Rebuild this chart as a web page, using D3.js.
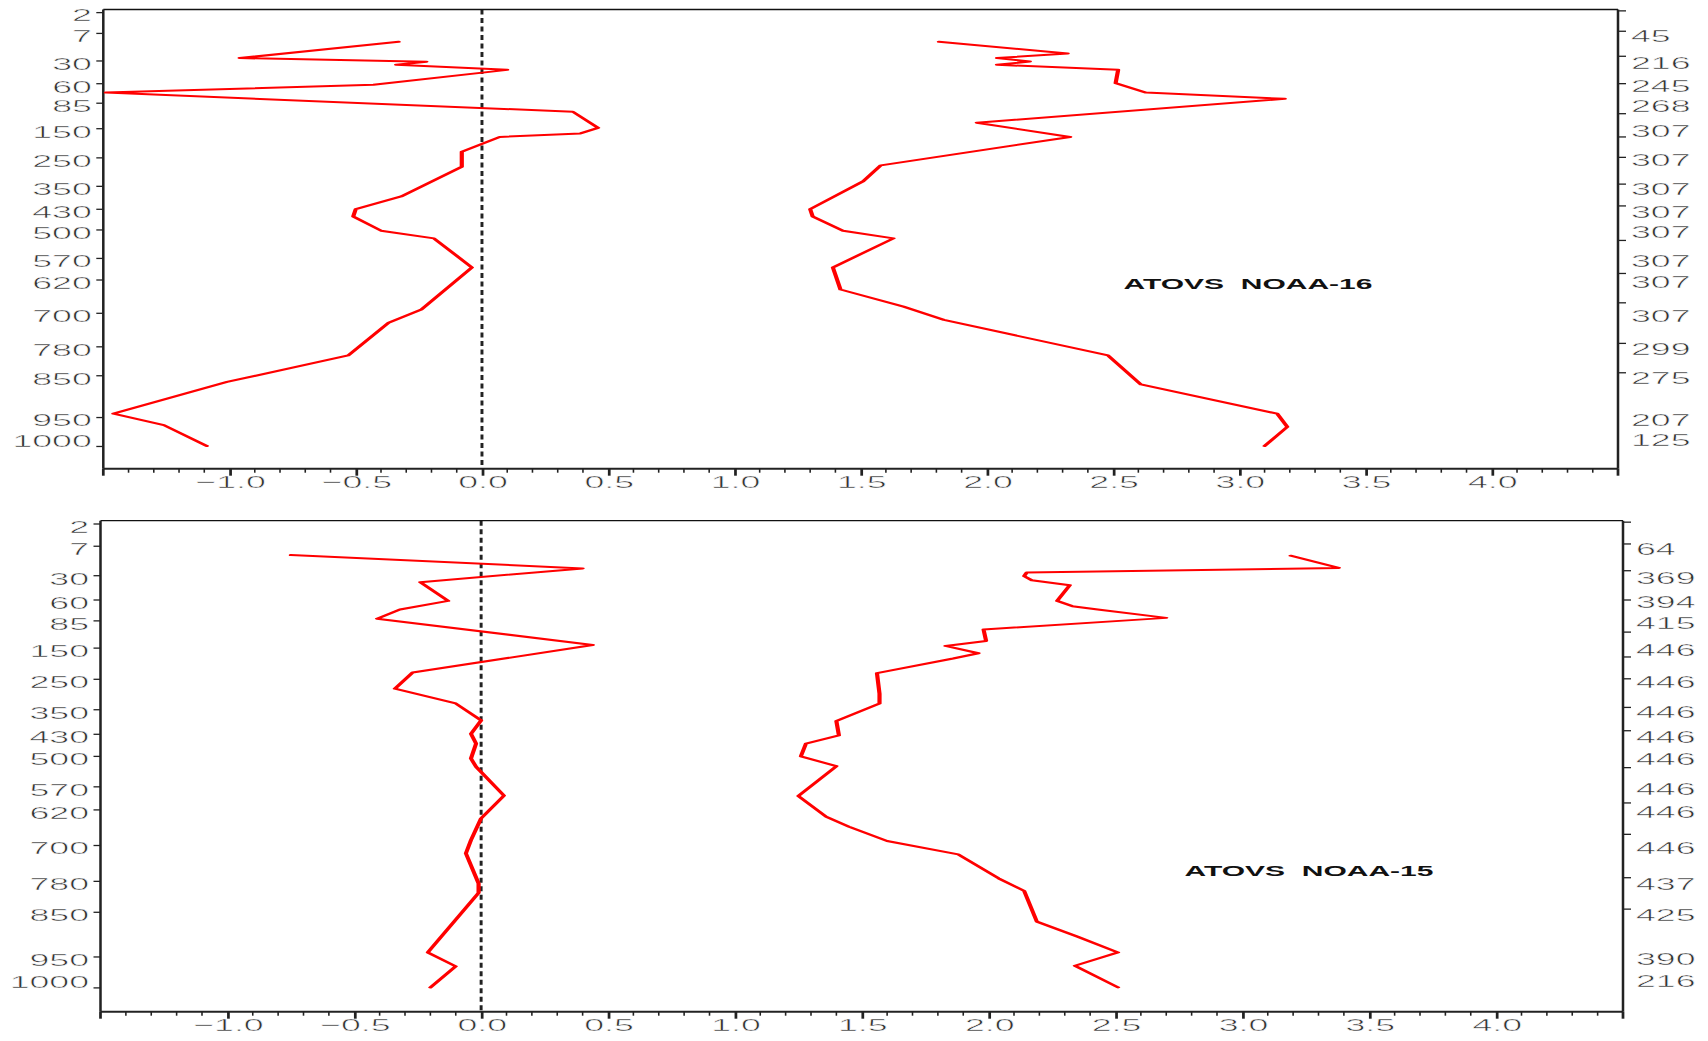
<!DOCTYPE html>
<html><head><meta charset="utf-8">
<script src="https://cdn.jsdelivr.net/npm/d3@7"></script>
<style>
html,body{margin:0;padding:0;background:#fff;}
svg{display:block;}
</style></head><body>
<svg id="chart" width="1708" height="1041"></svg>
<script>
// ---------------- data ----------------
const levels = [2,7,30,60,85,150,250,350,430,500,570,620,700,780,850,950,1000];
const xTickLabels = ["-1.0","-0.5","0.0","0.5","1.0","1.5","2.0","2.5","3.0","3.5","4.0"];
const rightTickLevels = [1.7,6.6,26.5,60.6,113,180,250,344,420,527,606,676,773,844];

const countsNOAA16 = [45,216,245,268,307,307,307,307,307,307,307,307,299,275,207,125];
const countsNOAA15 = [64,369,394,415,446,446,446,446,446,446,446,446,437,425,390,216];

const noaa16BiasP = [14.4,28,31.7,35.7,42.4,62,72,108,149,168,180,231,283,387,431,456,503,522,592,692,724,802,866,942,964,1000];
const noaa16BiasV = [-0.33,-0.96,-0.22,-0.34,0.10,-0.43,-1.49,0.36,0.46,0.39,0.07,-0.08,-0.08,-0.32,-0.50,-0.51,-0.40,-0.19,-0.04,-0.24,-0.37,-0.53,-1.01,-1.46,-1.26,-1.09];

const noaa16StdP = [14.4,24.2,28,31.3,35.7,42.4,60,72,80,136,180,278,334,431,456,503,522,592,644,685,717,802,872,942,967,1000];
const noaa16StdV = [1.81,2.32,2.04,2.17,2.04,2.52,2.51,2.63,3.18,1.96,2.33,1.58,1.51,1.30,1.31,1.43,1.63,1.39,1.42,1.67,1.83,2.48,2.61,3.15,3.19,3.10];

const noaa15BiasP = [14.3,24.7,38.6,61.7,72,83,143.7,230,282.6,331,386,430,461,506,525,590,640,689,718.6,786,807,941,966,1000];
const noaa15BiasV = [-0.75,0.40,-0.24,-0.13,-0.32,-0.41,0.44,-0.27,-0.34,-0.10,0.00,-0.04,-0.02,-0.04,-0.02,0.09,0.00,-0.04,-0.06,-0.01,-0.01,-0.21,-0.10,-0.20];

const noaa15StdP = [14.8,24.3,27.9,31.2,36.2,42.3,61.7,68,72,82,106.8,134,146,168,185,232,299,331,388.5,435,461,501,523.6,591,636.6,659,691,721,774.7,802.6,872,905.6,941,965,1000];
const noaa15StdV = [3.19,3.38,2.15,2.14,2.17,2.32,2.27,2.33,2.43,2.70,1.98,1.99,1.83,1.96,1.86,1.56,1.57,1.57,1.40,1.41,1.28,1.26,1.40,1.25,1.36,1.45,1.60,1.88,2.04,2.14,2.19,2.35,2.51,2.34,2.51];

// ---------------- layout ----------------
const S = 2.1;              // horizontal stretch of the original figure
const W = 1708, H = 1041;
const FONT = "'Liberation Sans', Arial, sans-serif";
const TXT = "#333";
const levelFrac = [0.0057,0.051,0.111,0.1605,0.203,0.2585,0.322,0.384,0.434,0.479,0.541,0.588,0.6605,0.7335,0.7965,0.8875,0.9505];

const svg = d3.select("#chart");
svg.append("rect").attr("width", W).attr("height", H).attr("fill", "#fff");
const root = svg.append("g").attr("transform", `scale(${S},1)`);

function zip(P, V) { return P.map((p, i) => ({p, v: V[i]})); }
// thin the horizontally stretched glyphs slightly with a white outline
function thin(sel) {
  return sel.attr("stroke", "#fff").attr("stroke-width", 0.45).attr("paint-order", "normal");
}

function panel(cfg) {
  const {x0, x1, y0, y1} = cfg.box;
  const g = root.append("g");
  const x = d3.scaleLinear().domain([-1.5, 4.5]).range([x0 / S, x1 / S]);
  const y = d3.scaleLinear().domain(levels).range(levelFrac.map(f => y0 + f * (y1 - y0)));

  // zero dashed line
  g.append("line").attr("x1", x(0)).attr("x2", x(0)).attr("y1", y0).attr("y2", y1)
    .attr("stroke", "#222").attr("stroke-width", 1.4).attr("stroke-dasharray", "5,3.5");

  // frame
  g.append("line").attr("x1", x0 / S).attr("x2", x1 / S).attr("y1", y0).attr("y2", y0)
    .attr("stroke", "#111").attr("stroke-width", 1.3);
  g.append("line").attr("x1", x1 / S).attr("x2", x1 / S).attr("y1", y0).attr("y2", y1)
    .attr("stroke", "#222").attr("stroke-width", 1.2);
  g.append("line").attr("x1", x0 / S).attr("x2", x0 / S).attr("y1", y0).attr("y2", y1)
    .attr("stroke", "#222").attr("stroke-width", 1.2);
  g.append("line").attr("x1", x0 / S).attr("x2", x1 / S).attr("y1", y1).attr("y2", y1)
    .attr("stroke", "#222").attr("stroke-width", 2);

  // minor x ticks (every 0.1)
  const minor = d3.range(-15, 46).map(i => i / 10).filter(d => Math.abs(d * 2 - Math.round(d * 2)) > 1e-6);
  g.selectAll(".minor").data(minor).join("line")
    .attr("x1", d => x(d)).attr("x2", d => x(d)).attr("y1", y1).attr("y2", y1 + 4)
    .attr("stroke", "#222").attr("stroke-width", 0.75);
  g.selectAll(".endtick").data([-1.5, 4.5]).join("line")
    .attr("x1", d => x(d)).attr("x2", d => x(d)).attr("y1", y1).attr("y2", y1 + 7)
    .attr("stroke", "#222").attr("stroke-width", 1.3);

  // major x axis with labels
  const xAxis = d3.axisBottom(x)
    .tickValues(xTickLabels.map(Number))
    .tickFormat((d, i) => xTickLabels[i].replace("-", "\u2212"))
    .tickSize(7).tickSizeOuter(0).tickPadding(0.7);
  const gx = g.append("g").attr("transform", `translate(0,${y1})`).call(xAxis);
  gx.select(".domain").remove();
  gx.attr("font-family", FONT).attr("font-size", 17).attr("color", "#222");
  gx.selectAll(".tick line").attr("stroke-width", 1.3);
  thin(gx.selectAll(".tick text").attr("fill", TXT));

  // left y axis
  const yAxis = d3.axisLeft(y).tickValues(levels).tickFormat(d3.format("d"))
    .tickSize(7 / S).tickSizeOuter(0).tickPadding(4.5 / S);
  const gy = g.append("g").attr("transform", `translate(${x0 / S},0)`).call(yAxis);
  gy.select(".domain").remove();
  gy.attr("font-family", FONT).attr("font-size", 17).attr("color", "#222");
  gy.selectAll(".tick line").attr("stroke-width", 1.3);
  thin(gy.selectAll(".tick text").attr("fill", TXT)
    .attr("y", (d, i) => i === levels.length - 1 ? -5.4 : 3.4));

  // right axis ticks
  g.selectAll(".rtick").data(rightTickLevels).join("line")
    .attr("x1", x1 / S).attr("x2", x1 / S + 8 / S).attr("y1", d => y(d)).attr("y2", d => y(d))
    .attr("stroke", "#222").attr("stroke-width", 1.3);
  // right labels (counts)
  const rl = levels.slice(1);
  thin(g.selectAll(".rlab").data(cfg.counts).join("text")
    .attr("x", x1 / S + 13 / S)
    .attr("y", (d, i) => y(rl[i]) + (i === rl.length - 1 ? 0 : 8.8))
    .attr("font-family", FONT).attr("font-size", 17).attr("fill", TXT)
    .text(d => d));

  // series
  const line = d3.line().x(d => x(d.v)).y(d => y(d.p));
  cfg.series.forEach(s => {
    g.append("path").datum(s).attr("d", line)
      .attr("fill", "none").attr("stroke", "#ff0000").attr("stroke-width", 2)
      .attr("stroke-linejoin", "round").attr("stroke-linecap", "round");
  });

  // title
  g.append("text").attr("x", cfg.titleX / S).attr("y", cfg.titleY)
    .attr("text-anchor", "middle").attr("font-family", FONT).attr("font-weight", "bold")
    .attr("font-size", 14.3).attr("fill", "#111")
    .text(cfg.title);
}

panel({
  box: {x0: 103.3, x1: 1618, y0: 9.5, y1: 468.7},
  counts: countsNOAA16,
  series: [zip(noaa16BiasP, noaa16BiasV), zip(noaa16StdP, noaa16StdV)],
  title: "ATOVS\u00a0\u00a0NOAA-16", titleX: 1248, titleY: 289.3
});
panel({
  box: {x0: 100.5, x1: 1623, y0: 520.7, y1: 1011.7},
  counts: countsNOAA15,
  series: [zip(noaa15BiasP, noaa15BiasV), zip(noaa15StdP, noaa15StdV)],
  title: "ATOVS\u00a0\u00a0NOAA-15", titleX: 1309, titleY: 876
});
</script>
</body></html>
